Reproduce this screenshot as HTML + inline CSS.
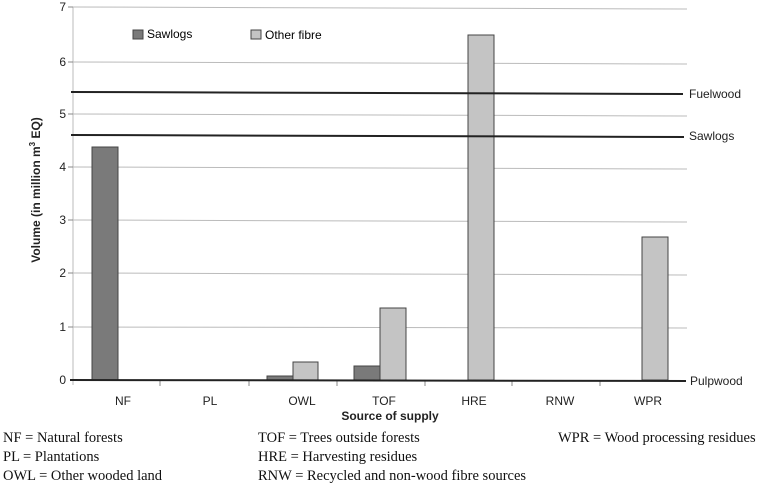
<!DOCTYPE html>
<html><head><style>body{margin:0;background:#fff}</style></head><body>
<svg width="769" height="486" xmlns="http://www.w3.org/2000/svg" font-family="Liberation Sans, sans-serif">
<g stroke="#bbb" stroke-width="1">
<line x1="73" y1="7" x2="687" y2="9"/><line x1="73" y1="62" x2="687" y2="64"/><line x1="73" y1="114" x2="687" y2="116"/><line x1="73" y1="167" x2="687" y2="169"/><line x1="73" y1="220" x2="687" y2="222"/><line x1="73" y1="273" x2="687" y2="275"/><line x1="73" y1="327" x2="687" y2="328"/>
<line x1="73" y1="7" x2="73" y2="385"/>
</g>
<g stroke="#888"><line x1="68" y1="7" x2="73" y2="7"/><line x1="68" y1="62" x2="73" y2="62"/><line x1="68" y1="114" x2="73" y2="114"/><line x1="68" y1="167" x2="73" y2="167"/><line x1="68" y1="220" x2="73" y2="220"/><line x1="68" y1="273" x2="73" y2="273"/><line x1="68" y1="327" x2="73" y2="327"/>
<line x1="160" y1="380" x2="160" y2="386"/><line x1="249" y1="380" x2="249" y2="386"/><line x1="337" y1="380" x2="337" y2="386"/><line x1="425" y1="380" x2="425" y2="386"/><line x1="512" y1="380" x2="512" y2="386"/><line x1="600" y1="380" x2="600" y2="386"/></g>
<g font-size="12" fill="#222" text-anchor="end"><text x="66" y="11">7</text><text x="66" y="66">6</text><text x="66" y="118">5</text><text x="66" y="171">4</text><text x="66" y="224">3</text><text x="66" y="277">2</text><text x="66" y="331">1</text><text x="66" y="384">0</text></g>
<g stroke="#444" stroke-width="1">
<rect x="92" y="147" width="26" height="233" fill="#7a7a7a"/>
<rect x="267" y="376" width="26" height="4" fill="#7a7a7a"/><rect x="293" y="362" width="25" height="18" fill="#c4c4c4"/>
<rect x="354" y="366" width="26" height="14" fill="#7a7a7a"/><rect x="380" y="308" width="26" height="72" fill="#c4c4c4"/>
<rect x="468" y="35" width="26" height="345" fill="#c4c4c4"/>
<rect x="642" y="237" width="26" height="143" fill="#c4c4c4"/>
</g>
<g stroke="#222" stroke-width="2"><line x1="71" y1="92" x2="683" y2="94"/><line x1="71" y1="135" x2="684" y2="137"/><line x1="70" y1="380" x2="686" y2="381"/></g>
<g font-size="12" fill="#222"><text x="689" y="98">Fuelwood</text><text x="689" y="140">Sawlogs</text><text x="690" y="385">Pulpwood</text></g>
<rect x="133" y="30" width="10" height="9" fill="#7a7a7a" stroke="#444"/><text x="147" y="38" font-size="12">Sawlogs</text>
<rect x="251" y="30" width="10" height="9" fill="#c4c4c4" stroke="#444"/><text x="265" y="39" font-size="12">Other fibre</text>
<g font-size="12" fill="#222" text-anchor="middle"><text x="123" y="405">NF</text><text x="210" y="405">PL</text><text x="302" y="405">OWL</text><text x="384" y="405">TOF</text><text x="474" y="405">HRE</text><text x="560" y="405">RNW</text><text x="648" y="405">WPR</text>
<text x="390" y="420" font-weight="bold">Source of supply</text>
<text transform="translate(40,190) rotate(-90)" font-weight="bold">Volume (in million m<tspan font-size="8" dy="-5">3</tspan><tspan dy="5"> EQ)</tspan></text></g>
<g font-family="Liberation Serif, serif" font-size="14.5" fill="#111"><text x="3" y="442">NF = Natural forests</text><text x="3" y="461">PL = Plantations</text><text x="3" y="480">OWL = Other wooded land</text>
<text x="258" y="442">TOF = Trees outside forests</text><text x="258" y="461">HRE = Harvesting residues</text><text x="258" y="480">RNW = Recycled and non-wood fibre sources</text>
<text x="558" y="442">WPR = Wood processing residues</text></g>
</svg>
</body></html>
